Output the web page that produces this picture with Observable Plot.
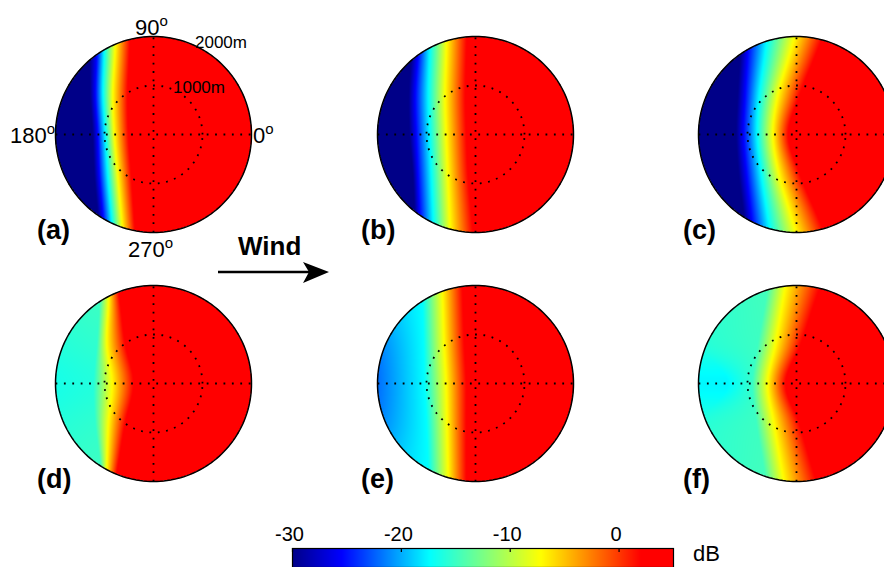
<!DOCTYPE html>
<html>
<head>
<meta charset="utf-8">
<script src="https://cdn.jsdelivr.net/npm/d3@7"></script>
<script src="https://cdn.jsdelivr.net/npm/@observablehq/plot@0.6"></script>
<style>
  html, body { margin: 0; padding: 0; background: #fff; overflow: hidden; }
  #root { position: relative; width: 884px; height: 567px; overflow: hidden; background: #fff; }
  #root > svg { position: absolute; }
  .lab { font-family: "Liberation Sans", Arial, Helvetica, sans-serif; fill: #000; }
</style>
</head>
<body>
<div id="root"></div>
<script>
// ---------------- data ----------------
// colour map (dB stops -> colours), as shown on the colour bar
const cbStopsDb = [-30, -25.5, -17.4, -7.2, 2, 5];
const cbStopsColor = ["#000088", "#0000ff", "#00ffff", "#ffff00", "#ff0000", "#ff0000"];
const cbTicks = [-30, -20, -10, 0];

// rows (metres, north = 90°) at which the level profiles were read
const rowsY = [1600, 800, 0, -800, -1600];
const diskRadius = 2000;          // outer ring, 2000 m
const ringRadii = [1000];         // dotted inner ring, 1000 m
const spokeAngles = [0, 90];      // dotted spokes (0–180°, 90–270°)

// each row: [x (m), level (dB)] break points from west to east
const profileA = [
  [[-1300, -30], [-1160, -25.5], [-1010, -17.4], [-790, -7.2], [-494, 2]],
  [[-1290, -30], [-1185, -25.5], [-1030, -17.4], [-830, -7.2], [-530, 2]],
  [[-1241, -30], [-1139, -25.5], [-984, -17.4], [-800, -7.2], [-514, 2]],
  [[-1208, -30], [-1106, -25.5], [-935, -17.4], [-731, -7.2], [-459, 2]],
  [[-1139, -30], [-1037, -25.5], [-867, -17.4], [-663, -7.2], [-404, 2]]
];
const profileB = [
  [[-1312, -30], [-1176, -25.5], [-938, -17.4], [-598, -7.2], [-190, 2]],
  [[-1360, -30], [-1230, -25.5], [-960, -17.4], [-620, -7.2], [-210, 2]],
  [[-1346, -30], [-1210, -25.5], [-938, -17.4], [-598, -7.2], [-190, 2]],
  [[-1278, -30], [-1176, -25.5], [-904, -17.4], [-564, -7.2], [-156, 2]],
  [[-1244, -30], [-1142, -25.5], [-870, -17.4], [-530, -7.2], [-88, 2]]
];
const profileC = [
  [[-1150, -30], [-1000, -25.5], [-650, -17.4], [-150, -7.2], [380, 2]],
  [[-1200, -30], [-1050, -25.5], [-760, -17.4], [-380, -7.2], [60, 2]],
  [[-1230, -30], [-1080, -25.5], [-800, -17.4], [-480, -7.2], [-170, 2]],
  [[-1180, -30], [-1020, -25.5], [-720, -17.4], [-360, -7.2], [60, 2]],
  [[-1080, -30], [-930, -25.5], [-600, -17.4], [-130, -7.2], [400, 2]]
];
const profileD = [
  [[-2000, -15.5], [-1100, -15], [-918, -7.2], [-680, 2]],
  [[-2000, -16], [-1155, -15.5], [-951, -7.2], [-578, 2]],
  [[-2000, -16.5], [-1225, -16], [-849, -7.2], [-408, 2]],
  [[-2000, -16], [-1190, -15.5], [-918, -7.2], [-578, 2]],
  [[-2000, -15.5], [-1088, -15], [-951, -7.2], [-714, 2]]
];
const profileE = [
  [[-2000, -20], [-1080, -17.4], [-666, -7.2], [-257, 2]],
  [[-2000, -21.5], [-1060, -17.4], [-640, -7.2], [-230, 2]],
  [[-2000, -22], [-1041, -17.4], [-598, -7.2], [-190, 2]],
  [[-2000, -21.5], [-1000, -17.4], [-580, -7.2], [-190, 2]],
  [[-2000, -20], [-972, -17.4], [-563, -7.2], [-190, 2]]
];
const profileF = [
  [[-2000, -15.8], [-650, -14.8], [-293, -7.2], [354, 2]],
  [[-2000, -16], [-790, -15], [-429, -7.2], [82, 2]],
  [[-1400, -17.6], [-900, -15.2], [-585, -7.2], [-225, 2]],
  [[-2000, -16], [-820, -15], [-463, -7.2], [48, 2]],
  [[-2000, -15.8], [-690, -14.8], [-327, -7.2], [286, 2]]
];

const panelNames = ["(a)", "(b)", "(c)", "(d)", "(e)", "(f)"];
const panelProfiles = [profileA, profileB, profileC, profileD, profileE, profileF];

// ---------------- layout ----------------
const FONT = '"Liberation Sans", Arial, Helvetica, sans-serif';
const colCx = [153, 474.5, 796];
const rowCy = [133.7, 383.3];
const R_PX = 98, M = 6, SIZE = 2 * R_PX + 2 * M;

const colorOpts = {type: "linear", domain: cbStopsDb, range: cbStopsColor, interpolate: "rgb", clamp: true};

function smoothAt(arr, t) {
  const n = arr.length;
  if (t <= 0) return arr[0] + (arr[1] - arr[0]) * t;
  if (t >= n - 1) return arr[n - 1] + (arr[n - 1] - arr[n - 2]) * (t - (n - 1));
  const i = Math.floor(t), u = t - i;
  const p1 = arr[i], p2 = arr[i + 1];
  const m1 = i > 0 ? (arr[i + 1] - arr[i - 1]) / 2 : arr[1] - arr[0];
  const m2 = i + 2 < n ? (arr[i + 2] - arr[i]) / 2 : arr[n - 1] - arr[n - 2];
  const u2 = u * u, u3 = u2 * u;
  return (2 * u3 - 3 * u2 + 1) * p1 + (u3 - 2 * u2 + u) * m1 + (-2 * u3 + 3 * u2) * p2 + (u3 - u2) * m2;
}

function fieldOf(rows) {
  const k = rows[0].length;
  const colX = d3.range(k).map(j => rows.map(r => r[j][0]));
  const colV = d3.range(k).map(j => rows.map(r => r[j][1]));
  const step = rowsY[0] - rowsY[1];
  return (x, y) => {
    if (x * x + y * y > diskRadius * diskRadius) return NaN;
    const t = (rowsY[0] - y) / step;
    const xs = colX.map(c => smoothAt(c, t));
    const vs = colV.map(c => smoothAt(c, t));
    if (x <= xs[0]) return vs[0];
    for (let j = 0; j < k - 1; ++j) {
      if (x <= xs[j + 1]) {
        const w = xs[j + 1] - xs[j];
        return w > 0 ? vs[j] + (vs[j + 1] - vs[j]) * (x - xs[j]) / w : vs[j + 1];
      }
    }
    return vs[k - 1];
  };
}

const circlePts = r => d3.range(0, 361, 2).map(a => ({r, x: r * Math.cos(a * Math.PI / 180), y: r * Math.sin(a * Math.PI / 180)}));
const innerRings = ringRadii.flatMap(circlePts);
const outerRing = circlePts(diskRadius);
const spokes = spokeAngles.flatMap(a => [-1, 1].map(s => ({a, x: s * diskRadius * Math.cos(a * Math.PI / 180), y: s * diskRadius * Math.sin(a * Math.PI / 180)})));

const root = document.getElementById("root");

panelProfiles.forEach((rows, i) => {
  const cx = colCx[i % 3], cy = rowCy[Math.floor(i / 3)];
  const chart = Plot.plot({
    width: SIZE, height: SIZE, margin: M,
    x: {domain: [-diskRadius, diskRadius], axis: null},
    y: {domain: [-diskRadius, diskRadius], axis: null},
    color: colorOpts,
    style: {background: "transparent", fontFamily: FONT},
    marks: [
      Plot.raster({x1: -diskRadius, x2: diskRadius, y1: -diskRadius, y2: diskRadius, fill: fieldOf(rows), pixelSize: 1}),
      Plot.line(spokes, {x: "x", y: "y", z: "a", stroke: "black", strokeWidth: 1.8, strokeDasharray: "1.8 6.6", strokeLinecap: "butt"}),
      Plot.line(innerRings, {x: "x", y: "y", z: "r", stroke: "black", strokeWidth: 1.8, strokeDasharray: "1.8 6.6", strokeLinecap: "butt"}),
      Plot.line(outerRing, {x: "x", y: "y", stroke: "black", strokeWidth: 1.5})
    ]
  });
  chart.style.left = (cx - SIZE / 2) + "px";
  chart.style.top = (cy - SIZE / 2) + "px";
  root.appendChild(chart);
});

// colour bar
const cb = Plot.plot({
  width: 884, height: 52,
  marginLeft: 292, marginRight: 211, marginTop: 33, marginBottom: 0,
  x: {domain: [cbStopsDb[0], cbStopsDb[cbStopsDb.length - 1]]},
  y: {domain: [0, 1], axis: null},
  color: colorOpts,
  style: {background: "transparent", fontFamily: FONT, fontSize: "20px", color: "#000"},
  marks: [
    Plot.raster({x1: -30, x2: 5, y1: 0, y2: 1, fill: (x, y) => x, pixelSize: 1}),
    Plot.frame({stroke: "black", strokeWidth: 1.2}),
    Plot.tickX(cbTicks, {x: d => d, insetBottom: 15, stroke: "black", strokeWidth: 1.2}),
    Plot.axisX(cbTicks, {anchor: "top", tickSize: 0, tickPadding: 8, tickFormat: d => String(d), fontSize: 20, dx: -3})
  ]
});
cb.style.left = "0px";
cb.style.top = "515px";
root.appendChild(cb);

// text labels and wind arrow
const NS = "http://www.w3.org/2000/svg";
const ov = document.createElementNS(NS, "svg");
ov.setAttribute("width", 884); ov.setAttribute("height", 567);
ov.style.left = "0px"; ov.style.top = "0px";
function addText(str, x, y, size, weight, sup) {
  const t = document.createElementNS(NS, "text");
  t.setAttribute("x", x); t.setAttribute("y", y);
  t.setAttribute("class", "lab");
  t.setAttribute("font-size", size);
  if (weight) t.setAttribute("font-weight", weight);
  t.appendChild(document.createTextNode(str));
  if (sup) {
    const s = document.createElementNS(NS, "tspan");
    s.setAttribute("font-size", 15); s.setAttribute("dy", -9);
    s.textContent = sup;
    t.appendChild(s);
  }
  ov.appendChild(t);
}
const labelX = [37, 361, 683];
const labelY = [239, 488];
panelNames.forEach((n, i) => addText(n, labelX[i % 3], labelY[Math.floor(i / 3)], 27, "bold"));
addText("90", 135, 35, 22, null, "o");
addText("180", 10, 143, 22, null, "o");
addText("0", 253, 143, 22, null, "o");
addText("270", 128, 257, 22, null, "o");
addText("2000m", 195, 48, 17);
addText("1000m", 173, 93, 17);
addText("Wind", 238, 255, 26, "bold");
addText("dB", 693, 561, 22);
const ln = document.createElementNS(NS, "line");
ln.setAttribute("x1", 218); ln.setAttribute("x2", 310); ln.setAttribute("y1", 272); ln.setAttribute("y2", 272);
ln.setAttribute("stroke", "black"); ln.setAttribute("stroke-width", 2.5);
ov.appendChild(ln);
const head = document.createElementNS(NS, "polygon");
head.setAttribute("points", "303,262 329,272 303,283 309,272");
head.setAttribute("fill", "black");
ov.appendChild(head);
root.appendChild(ov);
</script>
</body>
</html>
